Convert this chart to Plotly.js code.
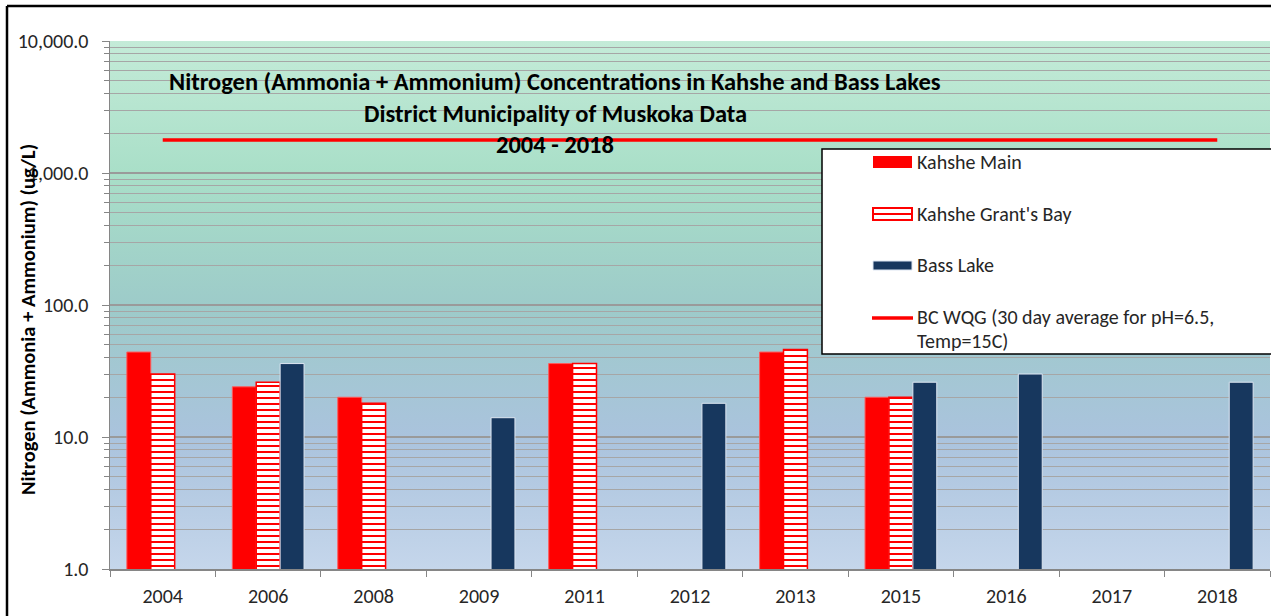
<!DOCTYPE html>
<html>
<head>
<meta charset="utf-8">
<script src="https://cdn.plot.ly/plotly-3.0.1.min.js"></script>
<style>
  html, body { margin: 0; padding: 0; background: #ffffff; }
  #chart { width: 1271px; height: 616px; }
</style>
</head>
<body>
<div id="chart"></div>
<script>
// ---- Data ----
const categories = ['2004', '2006', '2008', '2009', '2011', '2012', '2013', '2015', '2016', '2017', '2018'];
const kahsheMain = [44, 24, 20, null, 36, null, 44, 20, null, null, null];
const kahsheGrantsBay = [30, 26, 18, null, 36, null, 46, 20, null, null, null];
const bassLake = [null, 36, null, 14, null, 18, null, 26, 30, null, 26];
const wqgYears = ['2004', '2018'];
const wqgValues = [1780, 1780];
const yTickValues = [1, 10, 100, 1000, 10000];

const seriesNames = ['Kahshe Main', "Kahshe Grant's Bay", 'Bass Lake', 'BC WQG (30 day average for pH=6.5,', 'Temp=15C)'];
const titleLines = [
  'Nitrogen (Ammonia + Ammonium) Concentrations in Kahshe and Bass Lakes',
  'District Municipality of Muskoka Data',
  '2004 - 2018'
];
const yTitle = 'Nitrogen (Ammonia + Ammonium) (ug/L)';

// ---- Layout helpers (pixel -> paper) ----
const W = 1271, H = 616;
const M = { l: 110, r: 1, t: 41, b: 47 };
const PW = W - M.l - M.r, PH = H - M.t - M.b;
const px = v => (v - M.l) / PW;
const py = v => (H - M.b - v) / PH;

const FONT = 'Carlito, Lato, sans-serif';
const RED = '#ff0000';
const NAVY = '#17375e';

const traces = [
  {
    type: 'bar', name: seriesNames[0], x: categories, y: kahsheMain,
    marker: { color: RED, line: { color: '#ff5a5a', width: 1 } },
    showlegend: false, hoverinfo: 'x+y+name'
  },
  {
    type: 'bar', name: seriesNames[1], x: categories, y: kahsheGrantsBay,
    marker: {
      color: '#ffffff',
      line: { color: RED, width: 1.5 },
      pattern: { shape: '-', fgcolor: RED, bgcolor: '#ffffff', size: 6, solidity: 0.34, fillmode: 'replace' }
    },
    showlegend: false, hoverinfo: 'x+y+name'
  },
  {
    type: 'bar', name: seriesNames[2], x: categories, y: bassLake,
    marker: { color: NAVY, line: { color: '#dde6f2', width: 1 } },
    showlegend: false, hoverinfo: 'x+y+name'
  },
  {
    type: 'scatter', mode: 'lines', name: 'BC WQG', x: wqgYears, y: wqgValues,
    line: { color: RED, width: 3.5 }, showlegend: false
  }
];

// gradient background for the plot area
const gradSvg =
  "<svg xmlns='http://www.w3.org/2000/svg' width='10' height='100' viewBox='0 0 10 100' preserveAspectRatio='none'>" +
  "<defs><linearGradient id='g' x1='0' y1='0' x2='0' y2='1'>" +
  "<stop offset='0' stop-color='#c4ebd8'/>" +
  "<stop offset='0.25' stop-color='#a9dfc8'/>" +
  "<stop offset='0.5' stop-color='#9dcbc9'/>" +
  "<stop offset='0.75' stop-color='#aac3dd'/>" +
  "<stop offset='1' stop-color='#c5d6eb'/>" +
  "</linearGradient></defs><rect x='0' y='0' width='10' height='100' fill='url(#g)'/></svg>";
const gradSrc = 'data:image/svg+xml;base64,' + btoa(gradSvg);

const shapes = [
  // outer chart frame (top and left edges visible)
  { type: 'line', xref: 'paper', yref: 'paper', x0: px(7), x1: px(1300), y0: py(6), y1: py(6), line: { color: '#000', width: 2.5 } },
  { type: 'line', xref: 'paper', yref: 'paper', x0: px(7), x1: px(7), y0: py(6), y1: py(640), line: { color: '#000', width: 2.5 } },
  // legend box
  { type: 'rect', xref: 'paper', yref: 'paper', x0: px(822), x1: px(1300), y0: py(354), y1: py(149), fillcolor: '#ffffff', line: { color: '#000', width: 1.5 } },
  // legend swatches
  { type: 'rect', xref: 'paper', yref: 'paper', x0: px(873), x1: px(912), y0: py(168), y1: py(156), fillcolor: RED, line: { width: 0 } },
  { type: 'rect', xref: 'paper', yref: 'paper', x0: px(873), x1: px(912), y0: py(220), y1: py(208), fillcolor: '#ffffff', line: { color: RED, width: 2 } },
  { type: 'line', xref: 'paper', yref: 'paper', x0: px(873), x1: px(912), y0: py(214), y1: py(214), line: { color: RED, width: 2 } },
  { type: 'rect', xref: 'paper', yref: 'paper', x0: px(873), x1: px(912), y0: py(270), y1: py(261), fillcolor: NAVY, line: { color: '#dde6f2', width: 1 } },
  { type: 'line', xref: 'paper', yref: 'paper', x0: px(872), x1: px(913), y0: py(318), y1: py(318), line: { color: RED, width: 3.5 } }
];

const annotations = [];
const titleY = [82, 114, 145];
titleLines.forEach((t, i) => annotations.push({
  xref: 'paper', yref: 'paper', x: px(555), y: py(titleY[i]), xanchor: 'center', yanchor: 'middle',
  text: '<b>' + t + '</b>', showarrow: false, font: { family: FONT, size: 24.5, color: '#000' }
}));
const legY = [162, 214, 265, 317, 341];
seriesNames.forEach((t, i) => annotations.push({
  xref: 'paper', yref: 'paper', x: px(915), y: py(legY[i]), xanchor: 'left', yanchor: 'middle',
  text: t, showarrow: false, font: { family: FONT, size: 20, color: '#262626' }
}));
annotations.push({
  xref: 'paper', yref: 'paper', x: px(28), y: py(320), xanchor: 'center', yanchor: 'middle',
  text: '<b>' + yTitle + '</b>', textangle: -90, showarrow: false,
  font: { family: FONT, size: 20.5, color: '#000' }
});

const layout = {
  width: W, height: H,
  margin: M,
  paper_bgcolor: '#ffffff',
  plot_bgcolor: 'rgba(0,0,0,0)',
  barmode: 'group', bargap: 0.32, bargroupgap: 0,
  showlegend: false,
  font: { family: FONT, size: 20, color: '#262626' },
  images: [{
    source: gradSrc, xref: 'paper', yref: 'paper', x: 0, y: 1, sizex: 1, sizey: 1,
    xanchor: 'left', yanchor: 'top', sizing: 'stretch', layer: 'below'
  }],
  xaxis: {
    type: 'category', categoryorder: 'array', categoryarray: categories,
    showline: true, linecolor: '#868686', linewidth: 1.5,
    ticks: 'outside', tickson: 'boundaries', ticklen: 6, tickcolor: '#868686', tickwidth: 1,
    ticklabelstandoff: 8,
    showgrid: false, zeroline: false,
    tickfont: { family: FONT, size: 20, color: '#262626' }
  },
  yaxis: {
    type: 'log', range: [0, 4], tickvals: yTickValues, tickformat: ',.1f',
    showline: true, linecolor: '#868686', linewidth: 1.5,
    ticks: 'outside', ticklen: 7, tickcolor: '#868686', tickwidth: 1,
    ticklabelstandoff: 9,
    showgrid: true, gridcolor: '#9a9a9a', gridwidth: 1.2,
    minor: { dtick: 'D1', ticks: 'outside', ticklen: 5, tickcolor: '#868686', showgrid: true, gridcolor: '#a6a6a6', gridwidth: 1 },
    zeroline: false,
    tickfont: { family: FONT, size: 20, color: '#262626' }
  },
  shapes: shapes,
  annotations: annotations
};

Plotly.newPlot('chart', traces, layout, { displayModeBar: false, staticPlot: true });
</script>
</body>
</html>
